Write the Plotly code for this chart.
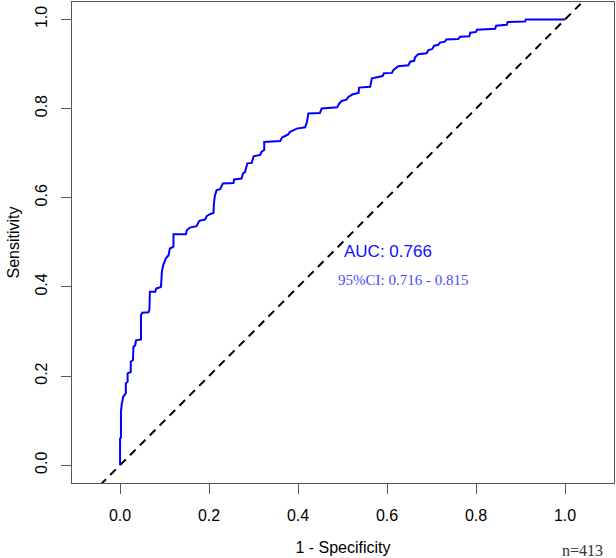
import plotly.graph_objects as go

# ROC curve vertices (1 - specificity, sensitivity)
fpr = [0.000, 0.000, 0.002, 0.002, 0.004, 0.007, 0.013, 0.013, 0.017, 0.017, 0.024, 0.024,
       0.029, 0.030, 0.034, 0.036, 0.047, 0.047, 0.050, 0.064, 0.066, 0.067, 0.079, 0.081,
       0.090, 0.092, 0.094, 0.097, 0.103, 0.109, 0.112, 0.120, 0.120, 0.148, 0.150, 0.157,
       0.172, 0.178, 0.191, 0.195, 0.202, 0.210, 0.211, 0.213, 0.217, 0.225, 0.231, 0.255,
       0.256, 0.273, 0.276, 0.281, 0.286, 0.296, 0.300, 0.315, 0.318, 0.324, 0.324, 0.360,
       0.364, 0.370, 0.378, 0.382, 0.397, 0.416, 0.420, 0.423, 0.449, 0.453, 0.488, 0.493,
       0.498, 0.509, 0.513, 0.523, 0.536, 0.537, 0.562, 0.566, 0.590, 0.593, 0.611, 0.614,
       0.625, 0.648, 0.652, 0.661, 0.663, 0.670, 0.689, 0.693, 0.701, 0.706, 0.715, 0.719,
       0.730, 0.733, 0.760, 0.764, 0.785, 0.787, 0.800, 0.802, 0.843, 0.845, 0.869, 0.871,
       0.910, 0.912, 1.000]
tpr = [0.000, 0.060, 0.062, 0.120, 0.138, 0.153, 0.162, 0.184, 0.187, 0.206, 0.209, 0.232,
       0.236, 0.265, 0.269, 0.280, 0.282, 0.337, 0.342, 0.343, 0.349, 0.389, 0.389, 0.396,
       0.399, 0.400, 0.434, 0.449, 0.464, 0.471, 0.486, 0.490, 0.518, 0.518, 0.527, 0.533,
       0.536, 0.548, 0.551, 0.559, 0.563, 0.566, 0.587, 0.604, 0.617, 0.619, 0.632, 0.633,
       0.641, 0.643, 0.654, 0.658, 0.677, 0.678, 0.693, 0.696, 0.703, 0.707, 0.725, 0.727,
       0.735, 0.738, 0.742, 0.748, 0.755, 0.758, 0.770, 0.789, 0.790, 0.800, 0.803, 0.812,
       0.817, 0.820, 0.826, 0.832, 0.835, 0.847, 0.849, 0.868, 0.873, 0.879, 0.880, 0.886,
       0.895, 0.897, 0.905, 0.907, 0.915, 0.922, 0.924, 0.931, 0.933, 0.941, 0.943, 0.948,
       0.950, 0.955, 0.956, 0.961, 0.962, 0.970, 0.972, 0.977, 0.979, 0.986, 0.988, 0.994,
       0.995, 1.000, 1.000]

ref_line = [-0.2, 1.2]
tick_vals = [0.0, 0.2, 0.4, 0.6, 0.8, 1.0]
tick_text = ["0.0", "0.2", "0.4", "0.6", "0.8", "1.0"]
auc_text = "AUC: 0.766"
ci_text = "95%CI: 0.716 - 0.815"
n_text = "n=413"

fig = go.Figure()
fig.add_trace(go.Scatter(x=ref_line, y=ref_line, mode="lines",
                         line=dict(color="black", width=2, dash="8px,6px"),
                         hoverinfo="skip", showlegend=False))
fig.add_trace(go.Scatter(x=fpr, y=tpr, mode="lines",
                         line=dict(color="#0000ff", width=2),
                         showlegend=False))

fig.add_annotation(x=0.601, y=0.480, text=auc_text, showarrow=False,
                   font=dict(family="Liberation Sans, Arial", size=17, color="#1010ff"))
fig.add_annotation(x=0.635, y=0.415, text=ci_text, showarrow=False,
                   font=dict(family="Liberation Serif, Times New Roman", size=15, color="#4a4aff"))
fig.add_annotation(x=1.0, y=0.0, xref="paper", yref="paper", xanchor="right", yanchor="top",
                   xshift=-9, yshift=-57, text=n_text, showarrow=False,
                   font=dict(family="Liberation Serif, Times New Roman", size=16, color="#333333"))

axis_common = dict(
    showgrid=False, zeroline=False, showline=True, mirror=True,
    linecolor="#555555", linewidth=1,
    ticks="outside", ticklen=10, tickwidth=1, tickcolor="#555555",
    tickvals=tick_vals, ticktext=tick_text, ticklabelstandoff=8,
    tickfont=dict(family="Liberation Sans, Arial", size=16, color="black"),
)

fig.update_layout(
    width=616, height=558,
    margin=dict(l=72, r=2, t=2, b=75),
    plot_bgcolor="white", paper_bgcolor="white",
    xaxis=dict(range=[-0.108, 1.110], title=dict(text="1 - Specificity", standoff=18,
               font=dict(family="Liberation Sans, Arial", size=16, color="black")),
               **axis_common),
    yaxis=dict(range=[-0.040, 1.039], tickangle=-90,
               title=dict(text="Sensitivity", standoff=8,
                          font=dict(family="Liberation Sans, Arial", size=16, color="black")),
               **axis_common),
)

fig.write_html("out.html")
